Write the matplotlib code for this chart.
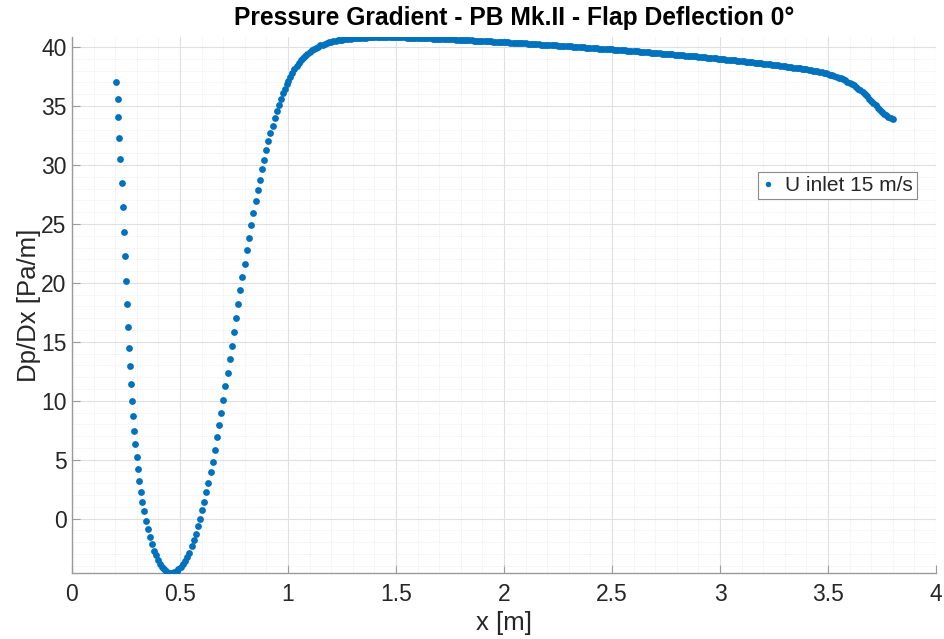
import numpy as np
import matplotlib
matplotlib.use("Agg")
import matplotlib.pyplot as plt
from matplotlib.ticker import MultipleLocator

plt.rcParams["font.family"] = ["Liberation Sans", "DejaVu Sans"]

# ---- measured pressure gradient along the body -------------------------
# sparse part (steep region before the plateau)
x_front = [
    0.205, 0.2116, 0.2144, 0.219, 0.2236, 0.230, 0.236, 0.2407, 0.2454, 0.250,
    0.2546, 0.2606, 0.2653, 0.270, 0.2746, 0.279, 0.284, 0.2884, 0.2931, 0.2995,
    0.3056, 0.3116, 0.318, 0.3255, 0.333, 0.341, 0.352, 0.361, 0.370, 0.380,
    0.389, 0.398, 0.408, 0.417, 0.427, 0.436, 0.446, 0.455, 0.465, 0.474,
    0.484, 0.493, 0.503, 0.512, 0.522, 0.531, 0.541, 0.554, 0.563, 0.573,
    0.582, 0.591, 0.601, 0.610, 0.620, 0.631, 0.642, 0.651, 0.662, 0.673,
    0.682, 0.691, 0.700, 0.710, 0.721, 0.730, 0.741, 0.750, 0.761, 0.770,
    0.779, 0.789, 0.800, 0.810, 0.820, 0.829, 0.839, 0.850, 0.860, 0.870,
    0.880, 0.890, 0.900, 0.909, 0.918, 0.929, 0.938, 0.949, 0.958, 0.968,
    0.977, 0.986, 0.995,
]
dpdx_front = [
    37.05, 35.58, 34.03, 32.33, 30.49, 28.48, 26.47, 24.35, 22.25, 20.19,
    18.23, 16.28, 14.50, 12.91, 11.38, 10.00, 8.69, 7.47, 6.34, 5.21,
    4.19, 3.23, 2.29, 1.41, 0.62, -0.17, -0.87, -1.58, -2.18, -2.72,
    -3.12, -3.49, -3.83, -4.09, -4.32, -4.47, -4.575, -4.617, -4.61, -4.56,
    -4.45, -4.31, -4.11, -3.89, -3.60, -3.29, -2.90, -2.35, -1.83, -1.27,
    -0.67, -0.02, 0.69, 1.42, 2.22, 3.06, 3.93, 4.84, 5.83, 6.88,
    7.90, 8.97, 10.08, 11.21, 12.34, 13.53, 14.67, 15.86, 17.04, 18.23,
    19.36, 20.53, 21.63, 22.76, 23.82, 24.88, 25.93, 26.92, 27.86, 28.76,
    29.64, 30.46, 31.25, 32.02, 32.70, 33.35, 33.97, 34.54, 35.10, 35.61,
    36.07, 36.49, 36.89,
]

# dense part: samples every 0.01 m from 1.00 m to 3.80 m
x_plateau_start = 1.00
x_plateau_step = 0.01
dpdx_plateau = [
    37.09, 37.46, 37.80, 38.11, 38.39, 38.64, 38.87, 39.08, 39.27, 39.44,  # 1.0
    39.59, 39.72, 39.84, 39.95, 40.05, 40.14, 40.22, 40.29, 40.35, 40.41,  # 1.1
    40.46, 40.50, 40.54, 40.58, 40.61, 40.64, 40.66, 40.68, 40.70, 40.72,  # 1.2
    40.74, 40.75, 40.77, 40.78, 40.79, 40.80, 40.81, 40.82, 40.83, 40.84,  # 1.3
    40.85, 40.85, 40.86, 40.86, 40.86, 40.86, 40.86, 40.86, 40.85, 40.85,  # 1.4
    40.84, 40.84, 40.83, 40.82, 40.82, 40.81, 40.81, 40.80, 40.79, 40.79,  # 1.5
    40.78, 40.77, 40.77, 40.76, 40.75, 40.75, 40.74, 40.73, 40.72, 40.72,  # 1.6
    40.71, 40.70, 40.69, 40.68, 40.67, 40.67, 40.66, 40.65, 40.64, 40.63,  # 1.7
    40.62, 40.61, 40.60, 40.59, 40.58, 40.57, 40.56, 40.55, 40.54, 40.53,  # 1.8
    40.52, 40.51, 40.50, 40.49, 40.48, 40.47, 40.46, 40.45, 40.44, 40.43,  # 1.9
    40.42, 40.41, 40.40, 40.39, 40.37, 40.36, 40.35, 40.34, 40.33, 40.32,  # 2.0
    40.31, 40.30, 40.28, 40.27, 40.26, 40.25, 40.24, 40.22, 40.21, 40.20,  # 2.1
    40.19, 40.18, 40.16, 40.15, 40.14, 40.13, 40.12, 40.10, 40.09, 40.08,  # 2.2
    40.07, 40.06, 40.04, 40.03, 40.02, 40.00, 39.99, 39.98, 39.96, 39.95,  # 2.3
    39.94, 39.93, 39.91, 39.90, 39.88, 39.87, 39.86, 39.84, 39.83, 39.81,  # 2.4
    39.80, 39.79, 39.77, 39.76, 39.74, 39.73, 39.72, 39.70, 39.69, 39.67,  # 2.5
    39.66, 39.64, 39.63, 39.61, 39.60, 39.58, 39.57, 39.55, 39.54, 39.52,  # 2.6
    39.51, 39.49, 39.48, 39.46, 39.45, 39.43, 39.42, 39.40, 39.39, 39.37,  # 2.7
    39.36, 39.34, 39.32, 39.31, 39.29, 39.27, 39.26, 39.24, 39.22, 39.21,  # 2.8
    39.19, 39.17, 39.15, 39.14, 39.12, 39.10, 39.08, 39.06, 39.05, 39.03,  # 2.9
    39.01, 38.99, 38.97, 38.95, 38.93, 38.91, 38.90, 38.88, 38.86, 38.84,  # 3.0
    38.82, 38.80, 38.78, 38.76, 38.74, 38.72, 38.69, 38.67, 38.65, 38.63,  # 3.1
    38.61, 38.59, 38.56, 38.54, 38.52, 38.49, 38.47, 38.45, 38.42, 38.40,  # 3.2
    38.38, 38.35, 38.33, 38.30, 38.27, 38.25, 38.22, 38.19, 38.17, 38.14,  # 3.3
    38.11, 38.08, 38.05, 38.01, 37.98, 37.94, 37.90, 37.86, 37.81, 37.77,  # 3.4
    37.72, 37.67, 37.61, 37.55, 37.49, 37.42, 37.35, 37.27, 37.18, 37.08,  # 3.5
    36.98, 36.87, 36.75, 36.62, 36.48, 36.33, 36.17, 36.00, 35.82, 35.63,  # 3.6
    35.44, 35.25, 35.05, 34.86, 34.67, 34.50, 34.34, 34.20, 34.08, 33.98,  # 3.7
    33.90,                                                                 # 3.8
]

x_ticks = [0, 0.5, 1, 1.5, 2, 2.5, 3, 3.5, 4]
x_tick_labels = ["0", "0.5", "1", "1.5", "2", "2.5", "3", "3.5", "4"]
y_ticks = [0, 5, 10, 15, 20, 25, 30, 35, 40]

title_text = "Pressure Gradient - PB Mk.II - Flap Deflection 0°"
series_label = "U inlet 15 m/s"

# ---- assemble the series ------------------------------------------------
x_plateau = x_plateau_start + x_plateau_step * np.arange(len(dpdx_plateau))
x_all = np.concatenate([x_front, x_plateau])
y_all = np.concatenate([dpdx_front, dpdx_plateau])

# ---- figure -------------------------------------------------------------
W, H = 944, 639
fig = plt.figure(figsize=(W / 100, H / 100), dpi=100)
ax = fig.add_axes([72 / W, 66 / H, 864 / W, 536 / H])

blue = "#0072BD"
text_col = "#262626"
axis_col = "#9a9a9a"

ax.plot(x_all, y_all, linestyle="none", marker="o", markersize=4.9,
        markeredgewidth=0, color=blue, label=series_label, zorder=3)

ax.set_xlim(0, 4)
ax.set_ylim(y_all.min(), y_all.max())

ax.set_xticks(x_ticks)
ax.set_xticklabels(x_tick_labels)
ax.set_yticks(y_ticks)
ax.xaxis.set_minor_locator(MultipleLocator(0.1))
ax.yaxis.set_minor_locator(MultipleLocator(1))

ax.grid(True, which="major", color="#e0e0e0", linewidth=0.8, zorder=0)
ax.grid(True, which="minor", color="#ebebeb", linewidth=0.6,
        linestyle=(0, (1, 1)), zorder=0)
ax.set_axisbelow(True)

for side in ("top", "right"):
    ax.spines[side].set_visible(False)
for side in ("left", "bottom"):
    ax.spines[side].set_color(axis_col)
    ax.spines[side].set_linewidth(1.0)

ax.tick_params(which="major", direction="in", length=6, width=0.8,
               color=axis_col, labelsize=16.5, labelcolor=text_col)
ax.tick_params(axis="x", which="major", pad=7)
ax.tick_params(axis="y", which="major", pad=4)
ax.tick_params(which="minor", length=0)

ax.set_xlabel("x [m]", fontsize=18.5, color=text_col, labelpad=4)
ax.set_ylabel("Dp/Dx [Pa/m]", fontsize=18.5, color=text_col, labelpad=0)
ax.set_title(title_text, fontsize=17.7, fontweight="bold", color="black",
             pad=9, x=0.512)

leg = ax.legend(loc="upper right", bbox_to_anchor=(0.978, 0.748),
                borderaxespad=0, fontsize=15, handlelength=0.6,
                handletextpad=0.5, borderpad=0.2, markerscale=0.8,
                fancybox=False, framealpha=1)
leg.get_frame().set_edgecolor("#8a8a8a")
leg.get_frame().set_linewidth(0.8)
for t in leg.get_texts():
    t.set_color(text_col)

fig.savefig("out.png", dpi=100)
